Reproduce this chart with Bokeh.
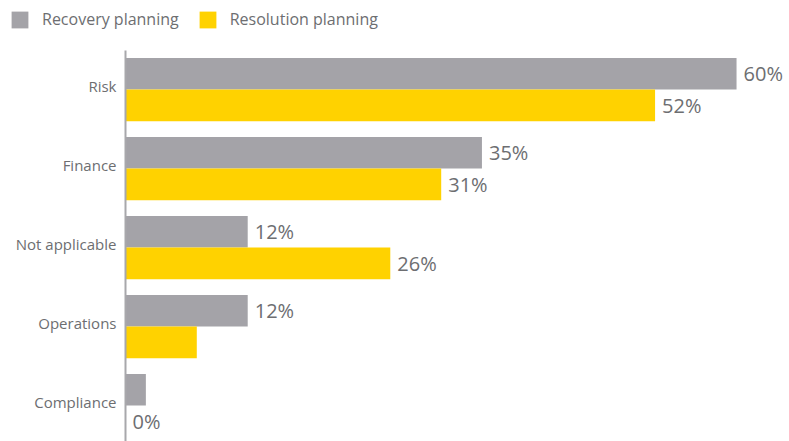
from bokeh.plotting import figure
from bokeh.layouts import column
from bokeh.models import ColumnDataSource, Range1d, FixedTicker, Legend, LegendItem
from bokeh.core.properties import value
from bokeh.embed import file_html
from bokeh.resources import INLINE

categories = ["Risk", "Finance", "Not applicable", "Operations", "Compliance"]
recovery = [60, 35, 12, 12, 2]
resolution = [52, 31, 26, 7, 0]
recovery_labels = ["60%", "35%", "12%", "12%", ""]
resolution_labels = ["52%", "31%", "26%", "", "0%"]
series_names = ["Recovery planning", "Resolution planning"]

GREY = "#a4a3a8"
YELLOW = "#ffd200"
TEXT = "#6d6e71"
FONT = "Open Sans"

pos = list(range(len(categories)))
src_rec = ColumnDataSource(dict(y=[i - 0.2 for i in pos], v=recovery, lab=recovery_labels))
src_res = ColumnDataSource(dict(y=[i + 0.2 for i in pos], v=resolution, lab=resolution_labels))

# main bar chart
p = figure(width=789, height=391, output_backend="svg", toolbar_location=None,
           x_range=Range1d(0, 65.2), y_range=Range1d(4.455, -0.494),
           x_axis_location=None, min_border_left=125, min_border_right=0,
           min_border_top=0, min_border_bottom=0)
p.outline_line_color = None
p.xgrid.visible = False
p.ygrid.visible = False

p.hbar(y="y", right="v", left=0, height=0.4, source=src_rec,
       fill_color=GREY, line_color=None)
p.hbar(y="y", right="v", left=0, height=0.4, source=src_res,
       fill_color=YELLOW, line_color=None)

for src in (src_rec, src_res):
    p.text(x="v", y="y", text="lab", source=src, x_offset=7,
           text_baseline="middle", text_align="left",
           text_font=value(FONT), text_font_size="20px", text_color=TEXT)

# category labels sit slightly above the centre of each bar pair
tick_pos = [i - 0.05 for i in pos]
ax = p.yaxis[0]
ax.ticker = FixedTicker(ticks=tick_pos)
ax.major_label_overrides = {t: c for t, c in zip(tick_pos, categories)}
ax.major_tick_line_color = None
ax.minor_tick_line_color = None
ax.major_tick_out = 0
ax.major_label_standoff = 9
ax.axis_line_color = "#a8a8ab"
ax.axis_line_width = 2
ax.major_label_text_font = FONT
ax.major_label_text_font_size = "15px"
ax.major_label_text_color = TEXT

# legend strip above the chart
lg = figure(width=789, height=50, output_backend="svg", toolbar_location=None,
            x_range=Range1d(0, 1), y_range=Range1d(0, 1),
            x_axis_location=None, y_axis_location=None,
            min_border_left=0, min_border_right=0, min_border_top=0, min_border_bottom=0)
lg.frame_align = False
lg.outline_line_color = None
lg.xgrid.visible = False
lg.ygrid.visible = False
# zero-size swatch renderers; only their legend entries show
g1 = lg.hbar(y=[0.5], left=[0.5], right=[0.5], height=0, fill_color=GREY, line_color=None)
g2 = lg.hbar(y=[0.5], left=[0.5], right=[0.5], height=0, fill_color=YELLOW, line_color=None)

legend = Legend(items=[LegendItem(label=series_names[0], renderers=[g1]),
                       LegendItem(label=series_names[1], renderers=[g2])],
                orientation="horizontal", location=(9, 20),
                glyph_width=21, glyph_height=21, label_standoff=12, spacing=18,
                padding=0, margin=0, border_line_color=None,
                background_fill_alpha=0,
                label_text_font=FONT, label_text_font_size="16px",
                label_text_color=TEXT)
lg.add_layout(legend, "center")

open("out.html", "w").write(file_html(column(lg, p, spacing=0), INLINE))
